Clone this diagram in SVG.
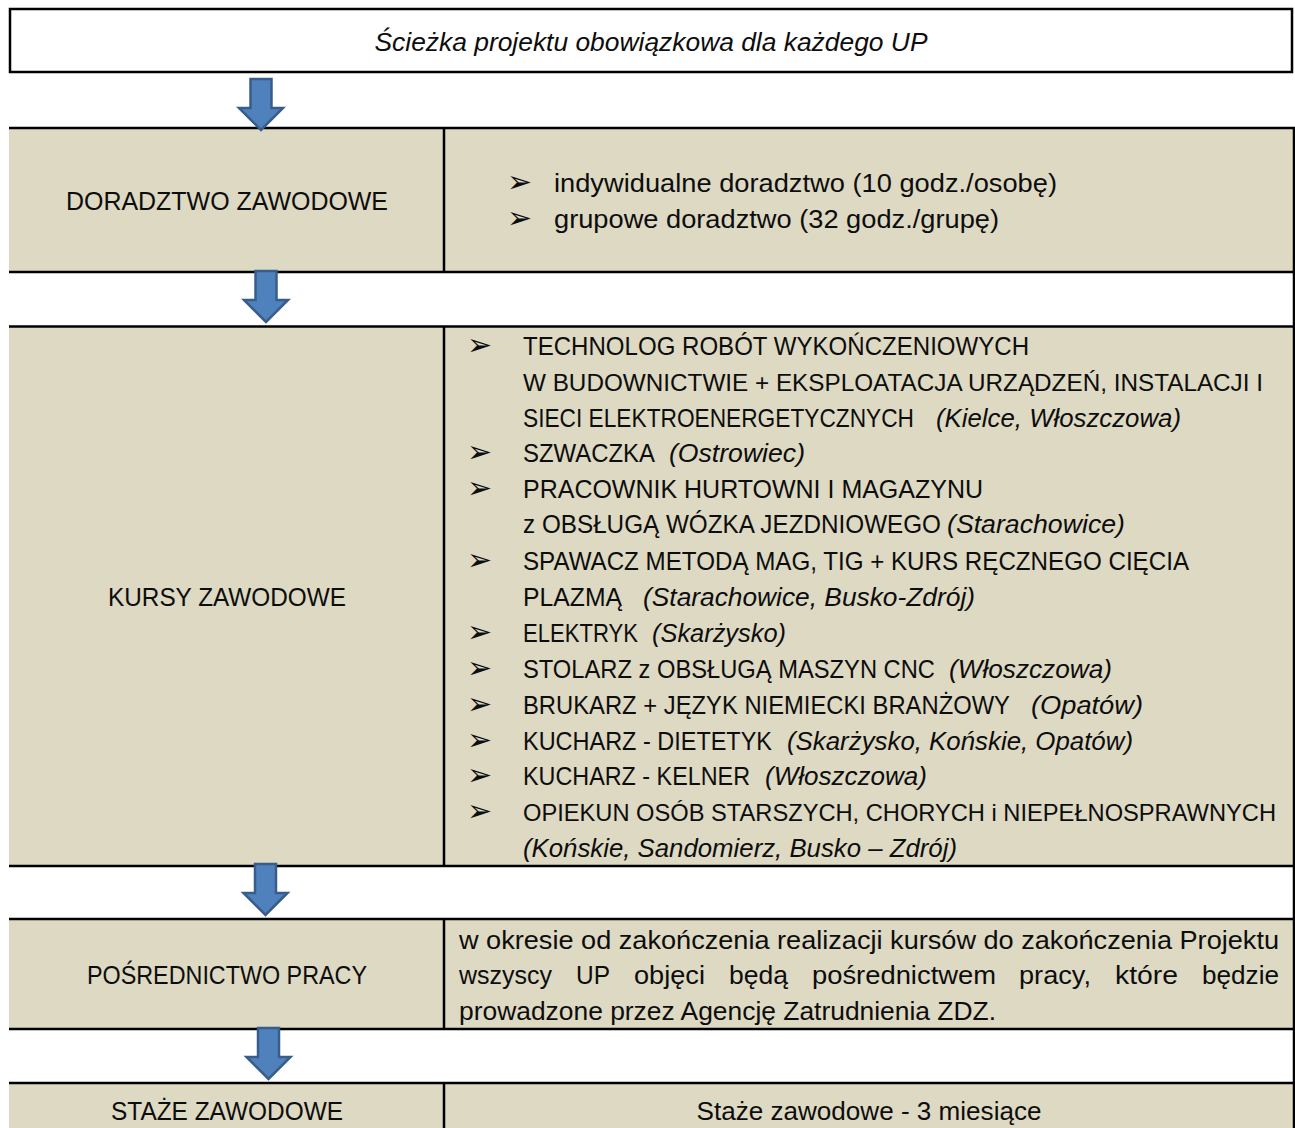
<svg xmlns="http://www.w3.org/2000/svg" width="1295" height="1128" viewBox="0 0 1295 1128">
<style>
text{font-family:"Liberation Sans",Arial,sans-serif;font-size:26px;fill:#0d0d0d}
.k{font-size:25px}
.kl{font-size:24px}
.it{font-style:italic}
.c{text-anchor:middle}
.b{font-family:"DejaVu Sans",sans-serif;font-size:30px}
.tan{fill:#DDD9C3}
.ln{stroke:#000;stroke-width:2.5;fill:none}
.arr{fill:#4F81BD;stroke:#385D8A;stroke-width:2.5;stroke-linejoin:miter}
</style>
<defs>
<path id="arrow" d="M-10.5,0 H10.5 V29 H22 L0,51 L-22,29 H-10.5 Z"/>
</defs>
<rect width="1295" height="1128" fill="#fff"/>

<g id="title">
<rect x="10" y="9" width="1282" height="63" fill="#fff" stroke="#000" stroke-width="2.5"/>
<text class="it c" x="651" y="51" textLength="553" lengthAdjust="spacingAndGlyphs">Ścieżka projektu obowiązkowa dla każdego UP</text>
</g>

<g id="table-grid">
<rect class="tan" x="9" y="128" width="1285" height="144"/>
<rect class="tan" x="9" y="326" width="1285" height="540"/>
<rect class="tan" x="9" y="919" width="1285" height="110"/>
<rect class="tan" x="9" y="1083" width="1285" height="60"/>
<path class="ln" d="M9,128H1295M9,272H1295M9,326.5H1295M9,866H1295M9,919H1295M9,1029H1295M9,1083H1295"/>
<path class="ln" d="M1294,128V1128M444,128V272M444,326.5V866M444,919V1029M444,1083V1128"/>
</g>

<g id="doradztwo-label">
<text class="c" x="227" y="210" textLength="322" lengthAdjust="spacingAndGlyphs">DORADZTWO ZAWODOWE</text>
</g>
<g id="doradztwo-content">
<text class="b" x="507" y="192">➢</text>
<text x="554" y="192" textLength="503" lengthAdjust="spacingAndGlyphs">indywidualne doradztwo (10 godz./osobę)</text>
<text class="b" x="507" y="228">➢</text>
<text x="554" y="228" textLength="445" lengthAdjust="spacingAndGlyphs">grupowe doradztwo (32 godz./grupę)</text>
</g>

<g id="kursy-label">
<text class="c" x="227" y="606" textLength="238" lengthAdjust="spacingAndGlyphs">KURSY ZAWODOWE</text>
</g>
<g id="kursy-content">
<text class="b" x="467" y="355">➢</text>
<text class="k" x="523" y="355" textLength="506" lengthAdjust="spacingAndGlyphs">TECHNOLOG ROBÓT WYKOŃCZENIOWYCH</text>
<text class="kl" x="523" y="391" textLength="740" lengthAdjust="spacingAndGlyphs">W BUDOWNICTWIE + EKSPLOATACJA URZĄDZEŃ, INSTALACJI I</text>
<text class="k" x="523" y="427" textLength="391" lengthAdjust="spacingAndGlyphs">SIECI ELEKTROENERGETYCZNYCH</text>
<text class="k it" x="936" y="427" textLength="245" lengthAdjust="spacingAndGlyphs">(Kielce, Włoszczowa)</text>

<text class="b" x="467" y="462">➢</text>
<text class="k" x="523" y="462" textLength="132" lengthAdjust="spacingAndGlyphs">SZWACZKA</text>
<text class="k it" x="669" y="462" textLength="136" lengthAdjust="spacingAndGlyphs">(Ostrowiec)</text>

<text class="b" x="467" y="498">➢</text>
<text class="k" x="523" y="498" textLength="460" lengthAdjust="spacingAndGlyphs">PRACOWNIK HURTOWNI I MAGAZYNU</text>
<text class="k" x="523" y="533" textLength="418" lengthAdjust="spacingAndGlyphs">z OBSŁUGĄ WÓZKA JEZDNIOWEGO</text>
<text class="k it" x="947" y="533" textLength="178" lengthAdjust="spacingAndGlyphs">(Starachowice)</text>

<text class="b" x="467" y="570">➢</text>
<text class="k" x="523" y="570" textLength="666" lengthAdjust="spacingAndGlyphs">SPAWACZ METODĄ MAG, TIG + KURS RĘCZNEGO CIĘCIA</text>
<text class="k" x="523" y="606" textLength="99" lengthAdjust="spacingAndGlyphs">PLAZMĄ</text>
<text class="k it" x="643" y="606" textLength="332" lengthAdjust="spacingAndGlyphs">(Starachowice, Busko-Zdrój)</text>

<text class="b" x="467" y="642">➢</text>
<text class="k" x="523" y="642" textLength="115" lengthAdjust="spacingAndGlyphs">ELEKTRYK</text>
<text class="k it" x="652" y="642" textLength="134" lengthAdjust="spacingAndGlyphs">(Skarżysko)</text>

<text class="b" x="467" y="678">➢</text>
<text class="k" x="523" y="678" textLength="412" lengthAdjust="spacingAndGlyphs">STOLARZ z OBSŁUGĄ MASZYN CNC</text>
<text class="k it" x="949" y="678" textLength="163" lengthAdjust="spacingAndGlyphs">(Włoszczowa)</text>

<text class="b" x="467" y="714">➢</text>
<text class="k" x="523" y="714" textLength="487" lengthAdjust="spacingAndGlyphs">BRUKARZ + JĘZYK NIEMIECKI BRANŻOWY</text>
<text class="k it" x="1031" y="714" textLength="112" lengthAdjust="spacingAndGlyphs">(Opatów)</text>

<text class="b" x="467" y="750">➢</text>
<text class="k" x="523" y="750" textLength="249" lengthAdjust="spacingAndGlyphs">KUCHARZ - DIETETYK</text>
<text class="k it" x="787" y="750" textLength="346" lengthAdjust="spacingAndGlyphs">(Skarżysko, Końskie, Opatów)</text>

<text class="b" x="467" y="785">➢</text>
<text class="k" x="523" y="785" textLength="227" lengthAdjust="spacingAndGlyphs">KUCHARZ - KELNER</text>
<text class="k it" x="765" y="785" textLength="162" lengthAdjust="spacingAndGlyphs">(Włoszczowa)</text>

<text class="b" x="467" y="821">➢</text>
<text class="kl" x="523" y="821" textLength="753" lengthAdjust="spacingAndGlyphs">OPIEKUN OSÓB STARSZYCH, CHORYCH i NIEPEŁNOSPRAWNYCH</text>
<text class="k it" x="523" y="857" textLength="434" lengthAdjust="spacingAndGlyphs">(Końskie, Sandomierz, Busko – Zdrój)</text>
</g>

<g id="posrednictwo-label">
<text class="c" x="227" y="984" textLength="280" lengthAdjust="spacingAndGlyphs">POŚREDNICTWO PRACY</text>
</g>
<g id="posrednictwo-content">
<text x="459" y="949" textLength="820" lengthAdjust="spacingAndGlyphs">w okresie od zakończenia realizacji kursów do zakończenia Projektu</text>
<text x="459" y="984" textLength="93" lengthAdjust="spacingAndGlyphs">wszyscy</text>
<text x="576" y="984" textLength="34" lengthAdjust="spacingAndGlyphs">UP</text>
<text x="634" y="984" textLength="71" lengthAdjust="spacingAndGlyphs">objęci</text>
<text x="729" y="984" textLength="59" lengthAdjust="spacingAndGlyphs">będą</text>
<text x="812" y="984" textLength="184" lengthAdjust="spacingAndGlyphs">pośrednictwem</text>
<text x="1019" y="984" textLength="72" lengthAdjust="spacingAndGlyphs">pracy,</text>
<text x="1115" y="984" textLength="63" lengthAdjust="spacingAndGlyphs">które</text>
<text x="1202" y="984" textLength="77" lengthAdjust="spacingAndGlyphs">będzie</text>
<text x="459" y="1020" textLength="537" lengthAdjust="spacingAndGlyphs">prowadzone przez Agencję Zatrudnienia ZDZ.</text>
</g>

<g id="staze-label">
<text class="c" x="227" y="1120" textLength="232" lengthAdjust="spacingAndGlyphs">STAŻE ZAWODOWE</text>
</g>
<g id="staze-content">
<text class="c" x="869" y="1120" textLength="345" lengthAdjust="spacingAndGlyphs">Staże zawodowe - 3 miesiące</text>
</g>

<g id="connectors">
<use href="#arrow" class="arr" transform="translate(261,79)"/>
<use href="#arrow" class="arr" transform="translate(266,271)"/>
<use href="#arrow" class="arr" transform="translate(265.5,864)"/>
<use href="#arrow" class="arr" transform="translate(268.5,1028)"/>
</g>
</svg>
